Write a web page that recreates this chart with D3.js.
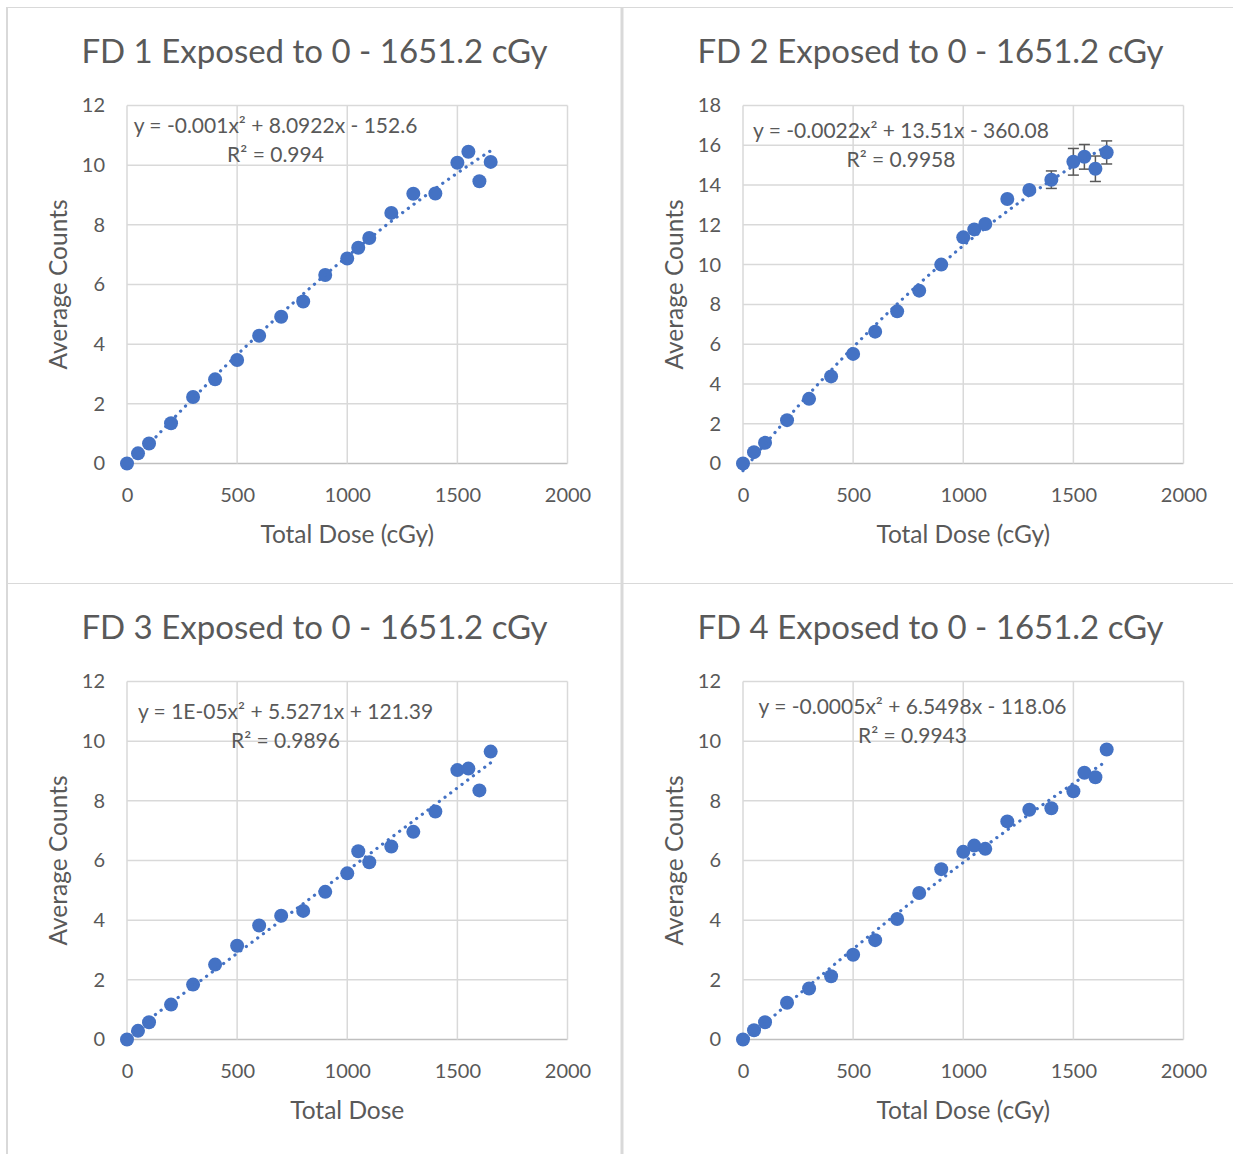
<!DOCTYPE html>
<html>
<head>
<meta charset="utf-8">
<script src="https://cdn.jsdelivr.net/npm/d3@7"></script>
<style>
  body { margin: 0; background: #fff; }
  text { font-family: Lato, "Open Sans", sans-serif; fill: #595959; }
</style>
</head>
<body>
<svg id="board" width="1233" height="1154"></svg>
<script>
// dose steps (cGy), same for every detector
const doses = [0, 50, 100, 200, 300, 400, 500, 600, 700, 800, 900, 1000, 1050, 1100, 1200, 1300, 1400, 1500, 1550, 1600, 1651.2]

// average counts
const fd1 = [0, 0.34, 0.67, 1.35, 2.23, 2.82, 3.47, 4.28, 4.92, 5.43, 6.32, 6.87, 7.23, 7.56, 8.40, 9.04, 9.05, 10.08, 10.45, 9.46, 10.11]
const fd2 = [0, 0.57, 1.04, 2.18, 3.25, 4.38, 5.51, 6.63, 7.65, 8.69, 10.0, 11.37, 11.77, 12.04, 13.30, 13.75, 14.27, 15.17, 15.42, 14.82, 15.64]
const fd3 = [0, 0.29, 0.58, 1.17, 1.84, 2.51, 3.14, 3.82, 4.15, 4.31, 4.95, 5.57, 6.31, 5.94, 6.47, 6.96, 7.64, 9.03, 9.08, 8.35, 9.65]
const fd4 = [0, 0.31, 0.58, 1.23, 1.71, 2.12, 2.84, 3.33, 4.04, 4.91, 5.71, 6.29, 6.50, 6.39, 7.31, 7.70, 7.75, 8.32, 8.94, 8.79, 9.72]

// error bars, only FD 2 shows them (last points)
const fd2Err = [null, null, null, null, null, null, null, null, null, null, null, null, null, null, null, null, 0.44, 0.67, 0.62, 0.64, 0.58]

// quadratic trend coefficients [a, b, c] as printed (raw counts)
const trend1 = [-0.001, 8.0922, -152.6]
const trend2 = [-0.0022, 13.51, -360.08]
const trend3 = [1e-05, 5.5271, 121.39]
const trend4 = [-0.0005, 6.5498, -118.06]
const countsPerUnit = 1000

const titles = ["FD 1 Exposed to 0 - 1651.2 cGy", "FD 2 Exposed to 0 - 1651.2 cGy", "FD 3 Exposed to 0 - 1651.2 cGy", "FD 4 Exposed to 0 - 1651.2 cGy"]
const equations = ["y = -0.001x² + 8.0922x - 152.6", "y = -0.0022x² + 13.51x - 360.08", "y = 1E-05x² + 5.5271x + 121.39", "y = -0.0005x² + 6.5498x - 118.06"]
const r2Labels = ["R² = 0.994", "R² = 0.9958", "R² = 0.9896", "R² = 0.9943"]
const xTitles = ["Total Dose (cGy)", "Total Dose (cGy)", "Total Dose", "Total Dose (cGy)"]
const yTitle = "Average Counts"
const xTicks = [0, 500, 1000, 1500, 2000]
const yMax = [12, 18, 12, 12]
const yStep = 2

const series = [fd1, fd2, fd3, fd4]
const errors = [null, fd2Err, null, null]
const trends = [trend1, trend2, trend3, trend4]

// layout of the four chart boxes
const boxes = [
  { x: 7, y: 7, eqX: 148.5, eqY: 125.5 },
  { x: 623, y: 7, eqX: 158, eqY: 131 },
  { x: 7, y: 583, eqX: 158.5, eqY: 136 },
  { x: 623, y: 583, eqX: 169.5, eqY: 130.5 }
]
const plot = { left: 120, top: 98.5, width: 440.5, height: 358 }
const blue = "#4472c4"

const svg = d3.select("#board")

// chart frames
svg.append("line").attr("x1", 6).attr("x2", 1233).attr("y1", 7.5).attr("y2", 7.5)
  .attr("stroke", "#d9d9d9").attr("stroke-width", 1)
svg.append("line").attr("x1", 6).attr("x2", 1233).attr("y1", 583.5).attr("y2", 583.5)
  .attr("stroke", "#d9d9d9").attr("stroke-width", 1)
svg.append("rect").attr("x", 6).attr("y", 7).attr("width", 2).attr("height", 1147).attr("fill", "#d9d9d9")
svg.append("rect").attr("x", 620.5).attr("y", 7).attr("width", 3).attr("height", 1147).attr("fill", "#d9d9d9")

boxes.forEach((b, i) => {
  const g = svg.append("g").attr("transform", `translate(${b.x},${b.y})`)
  const x = d3.scaleLinear().domain([0, 2000]).range([plot.left, plot.left + plot.width])
  const y = d3.scaleLinear().domain([0, yMax[i]]).range([plot.top + plot.height, plot.top])
  const yTicks = d3.range(0, yMax[i] + 1, yStep)

  // title
  g.append("text")
    .attr("x", 307.5).attr("y", 56)
    .attr("text-anchor", "middle")
    .style("font-size", "33px")
    .text(titles[i])

  // grid
  g.selectAll(".hgrid").data(yTicks).join("line")
    .attr("x1", x(0)).attr("x2", x(2000))
    .attr("y1", d => y(d)).attr("y2", d => y(d))
    .attr("stroke", d => d === 0 ? "#bfbfbf" : "#d9d9d9").attr("stroke-width", 1.5)
  g.selectAll(".vgrid").data(xTicks).join("line")
    .attr("x1", d => x(d)).attr("x2", d => x(d))
    .attr("y1", y(yMax[i])).attr("y2", y(0))
    .attr("stroke", "#d9d9d9").attr("stroke-width", 1.5)

  // axes, labels only
  const xAxis = g.append("g").attr("transform", `translate(0,${y(0)})`)
    .call(d3.axisBottom(x).tickValues(xTicks).tickSize(0).tickPadding(24).tickFormat(d3.format("d")))
  const yAxis = g.append("g").attr("transform", `translate(${x(0)},0)`)
    .call(d3.axisLeft(y).tickValues(yTicks).tickSize(0).tickPadding(22))
  ;[xAxis, yAxis].forEach(a => {
    a.select(".domain").remove()
    a.selectAll("text").style("font-size", "20px").attr("fill", "#595959").style("font-family", "Lato, sans-serif")
  })

  // axis titles
  g.append("text")
    .attr("x", x(1000)).attr("y", y(0) + 79)
    .attr("text-anchor", "middle")
    .style("font-size", "24.5px")
    .text(xTitles[i])
  g.append("text")
    .attr("transform", `translate(59.5,${(y(0) + y(yMax[i])) / 2}) rotate(-90)`)
    .attr("text-anchor", "middle")
    .style("font-size", "24.5px")
    .text(yTitle)

  // error bars
  const err = errors[i]
  if (err) {
    const pts = doses.map((d, k) => ({ d, v: series[i][k], e: err[k] })).filter(p => p.e != null)
    const eb = g.append("g").attr("stroke", "#595959").attr("stroke-width", 1.5)
    pts.forEach(p => {
      eb.append("line").attr("x1", x(p.d)).attr("x2", x(p.d)).attr("y1", y(p.v - p.e)).attr("y2", y(p.v + p.e))
      ;[p.v - p.e, p.v + p.e].forEach(v => {
        eb.append("line").attr("x1", x(p.d) - 5.5).attr("x2", x(p.d) + 5.5).attr("y1", y(v)).attr("y2", y(v))
      })
    })
  }

  // markers
  g.selectAll(".pt").data(doses).join("circle")
    .attr("cx", d => x(d))
    .attr("cy", (d, k) => y(series[i][k]))
    .attr("r", 7)
    .attr("fill", blue)

  // dotted polynomial trendline
  const [a, bb, c] = trends[i]
  const xs = d3.range(0, 1651.2, 10).concat([1651.2])
  const line = d3.line()
    .x(d => x(d))
    .y(d => y((a * d * d + bb * d + c) / countsPerUnit))
  g.append("path")
    .datum(xs)
    .attr("d", line)
    .attr("fill", "none")
    .attr("stroke", blue)
    .attr("stroke-width", 3.2)
    .attr("stroke-linecap", "round")
    .attr("stroke-dasharray", "0.1 7")

  // equation labels
  g.append("text")
    .attr("x", plot.left + b.eqX).attr("y", b.eqY)
    .attr("text-anchor", "middle")
    .style("font-size", "21px")
    .text(equations[i])
  g.append("text")
    .attr("x", plot.left + b.eqX).attr("y", b.eqY + 29)
    .attr("text-anchor", "middle")
    .style("font-size", "21px")
    .text(r2Labels[i])
})
</script>
</body>
</html>
